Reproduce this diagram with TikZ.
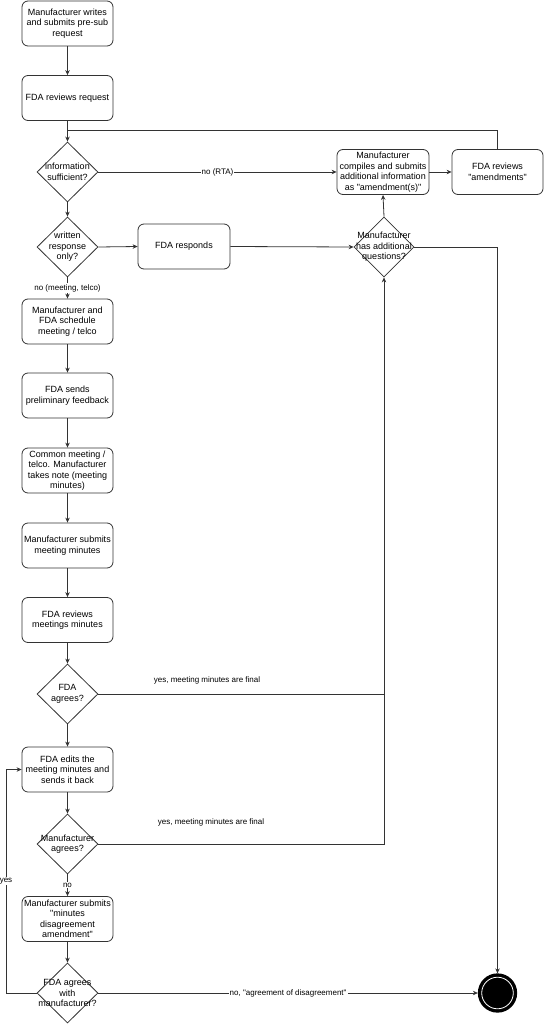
\documentclass[tikz,border=0pt]{standalone}
\usepackage{fontspec}
\setmainfont{Liberation Sans}[Ligatures=TeXOff]
\usetikzlibrary{shapes.geometric,arrows.meta}
\tikzset{
  box/.style={draw=black!80, line width=0.8pt, rounded corners=6pt, fill=white,
    minimum width=91pt, minimum height=45pt, inner sep=1pt, align=center,
    font=\fontsize{9}{10.5}\selectfont},
  dec/.style={draw=black!80, line width=0.8pt, diamond, minimum width=61pt,
    minimum height=60pt, inner sep=0pt, fill=white},
  dtext/.style={align=center, font=\fontsize{9}{10.5}\selectfont, inner sep=0pt},
  conn/.style={draw=black!80, line width=0.8pt, -{Stealth[length=5pt,width=4.5pt]}},
  plain/.style={draw=black!80, line width=0.8pt},
  lab/.style={fill=white, inner sep=1pt, font=\fontsize{8}{9.5}\selectfont},
}
\begin{document}
\begin{tikzpicture}[x=1pt,y=-1pt]
\useasboundingbox (0,0) rectangle (544,1024);
% boxes
\node[box] (b1) at (67.5,23.5) {Manufacturer writes\\and submits pre-sub\\request};
\node[box] (b2) at (67.5,98) {FDA reviews request};
\node[dec, label={[dtext]center:information\\sufficient?}] (d1) at (67.5,172) {};
\node[dec, label={[dtext]center:written\\response\\only?}] (d2) at (67.5,247) {};
\node[box, minimum width=92pt] (resp) at (184,246.5) {FDA responds};
\node[box, minimum width=92pt] (amend) at (383,172) {Manufacturer\\compiles and submits\\additional information\\as "amendment(s)"};
\node[box] (famend) at (497.5,172) {FDA reviews\\"amendments"};
\node[dec, minimum width=60pt, label={[dtext]center:Manufacturer\\has additional\\questions?}] (dq) at (384,247) {};
\node[box] (b3) at (67.5,321.5) {Manufacturer and\\FDA schedule\\meeting / telco};
\node[box] (b4) at (67.5,395.5) {FDA sends\\preliminary feedback};
\node[box] (b5) at (67.5,470.5) {Common meeting /\\telco. Manufacturer\\takes note (meeting\\minutes)};
\node[box] (b6) at (67.5,545.5) {Manufacturer submits\\meeting minutes};
\node[box] (b7) at (67.5,620) {FDA reviews\\meetings minutes};
\node[dec, label={[dtext]center:FDA\\agrees?}] (d3) at (67.5,694) {};
\node[box] (b8) at (67.5,769.5) {FDA edits the\\meeting minutes and\\sends it back};
\node[dec, label={[dtext]center:Manufacturer\\agrees?}] (d4) at (67.5,844) {};
\node[box] (b9) at (67.5,919) {Manufacturer submits\\"minutes\\disagreement\\amendment"};
\node[dec, label={[dtext]center:FDA agrees\\with\\manufacturer?}] (d5) at (67.5,993) {};
\node[circle, draw=black, fill=black, line width=1.3pt, minimum size=38pt, inner sep=0pt] (end) at (497.5,993) {};
\draw[white, line width=0.8pt] (end.center) circle (15.8pt);
% junction coordinates
\coordinate (j1) at (67.5,130);
\coordinate (j2) at (384,694);
\coordinate (y1) at (6,993);
\coordinate (y2) at (6,769.5);
% connectors
\draw[conn] (b1) -- (b2);
\draw[conn] (b2) -- (d1);
\draw[plain] (famend.north) |- (j1);
\draw[conn] (d1.east) -- node[lab] {no (RTA)} (amend.west);
\draw[conn] (d1.south) -- (d2.north);
\draw[conn] (d2.east) -- (resp.west);
\draw[conn] (resp.east) -- (dq.west);
\draw[conn] (dq.north) -- (amend.south);
\draw[conn] (amend.east) -- (famend.west);
\draw[conn] (dq.east) -| (end.north);
\draw[conn] (d2.south) -- node[lab] {no (meeting, telco)} (b3.north);
\draw[conn] (b3) -- (b4);
\draw[conn] (b4) -- (b5);
\draw[conn] (b5) -- (b6);
\draw[conn] (b6) -- (b7);
\draw[conn] (b7) -- (d3);
\draw[conn] (d3.east) -| (dq.south);
\node[lab, fill=none] (l1) at (207,680) {yes, meeting minutes are final};
\draw[conn] (d3.south) -- (b8.north);
\draw[conn] (b8.south) -- (d4.north);
\draw[plain] (d4.east) -| (j2);
\node[lab, fill=none] (l2) at (211,822) {yes, meeting minutes are final};
\draw[conn] (d4.south) -- node[lab] {no} (b9.north);
\draw[conn] (b9.south) -- (d5.north);
\draw[conn] (d5.west) -- (y1) -- node[lab] {yes} (y2) -- (b8.west);
\draw[conn] (d5.east) -- node[lab] {no, "agreement of disagreement"} (end.west);
\end{tikzpicture}
\end{document}
